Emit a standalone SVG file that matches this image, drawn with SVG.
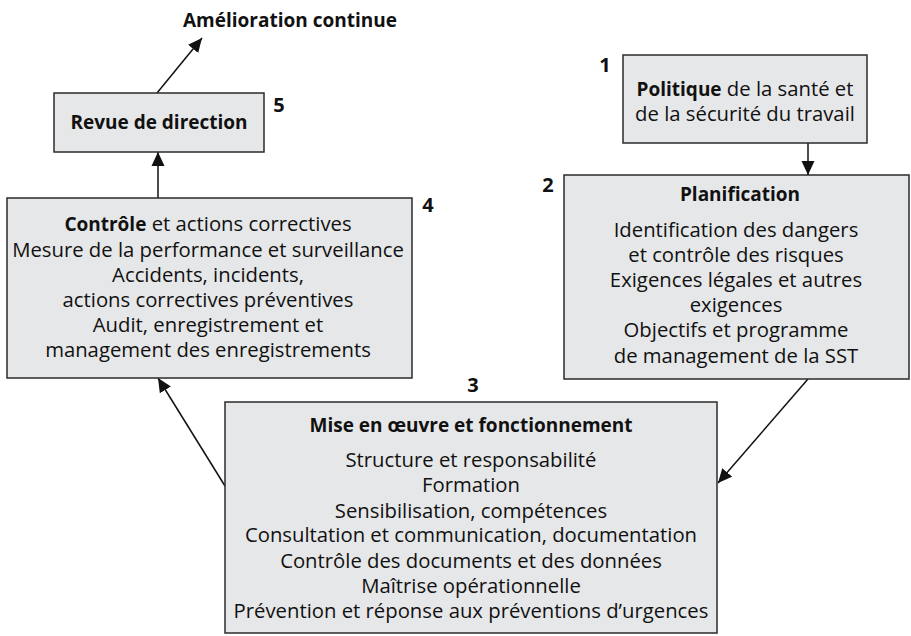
<svg xmlns="http://www.w3.org/2000/svg" width="911" height="636" viewBox="0 0 911 636">
  <style>
    .box { fill: #e6e7e8; stroke: #2b2b2b; stroke-width: 1.5; }
    .t { font-family: "Open Sans", "Liberation Sans", Arial, sans-serif; font-size: 20.3px; fill: #111; text-anchor: middle; }
    .b { font-weight: bold; font-size: 19px; }
    .num { font-family: "Open Sans", "Liberation Sans", Arial, sans-serif; font-size: 20px; font-weight: bold; fill: #111; text-anchor: middle; }
    .edge { stroke: #111; stroke-width: 1.5; fill: none; marker-end: url(#arrow); }
  </style>
  <defs>
    <marker id="arrow" markerWidth="14" markerHeight="14" viewBox="0 0 14 14" refX="14" refY="7" orient="auto" markerUnits="userSpaceOnUse">
      <path d="M0,0.5 L14,7 L0,13.5 Z" fill="#111"/>
    </marker>
  </defs>

  <rect width="911" height="636" fill="#ffffff"/>

  <g id="connectors">
    <line class="edge" x1="808" y1="143" x2="808" y2="175"/>
    <line class="edge" x1="808" y1="379" x2="718" y2="483"/>
    <line class="edge" x1="225" y1="486" x2="158" y2="378"/>
    <line class="edge" x1="158" y1="198" x2="158" y2="152"/>
    <line class="edge" x1="157" y1="93" x2="202" y2="38"/>
  </g>

  <g id="amelioration">
    <text class="t b" x="290" y="27">Amélioration continue</text>
  </g>

  <g id="node-5">
    <rect class="box" x="54" y="93" width="210" height="59"/>
    <text class="t b" x="159" y="129">Revue de direction</text>
    <text class="num" x="279" y="112">5</text>
  </g>

  <g id="node-1">
    <rect class="box" x="623" y="55" width="244" height="88"/>
    <text class="t" x="745" y="96"><tspan class="b">Politique</tspan> de la santé et</text>
    <text class="t" x="745" y="121">de la sécurité du travail</text>
    <text class="num" x="605" y="72">1</text>
  </g>

  <g id="node-2">
    <rect class="box" x="564" y="175" width="345" height="204"/>
    <text class="t b" x="740" y="201">Planification</text>
    <text class="t" x="736" y="237">Identification des dangers</text>
    <text class="t" x="736" y="262">et contrôle des risques</text>
    <text class="t" x="736" y="287">Exigences légales et autres</text>
    <text class="t" x="736" y="312">exigences</text>
    <text class="t" x="736" y="337">Objectifs et programme</text>
    <text class="t" x="736" y="363">de management de la SST</text>
    <text class="num" x="548" y="192">2</text>
  </g>

  <g id="node-4">
    <rect class="box" x="7" y="198" width="405" height="180"/>
    <text class="t" x="208" y="231"><tspan class="b">Contrôle</tspan> et actions correctives</text>
    <text class="t" x="208" y="257">Mesure de la performance et surveillance</text>
    <text class="t" x="208" y="282">Accidents, incidents,</text>
    <text class="t" x="208" y="307">actions correctives préventives</text>
    <text class="t" x="208" y="332">Audit, enregistrement et</text>
    <text class="t" x="208" y="357">management des enregistrements</text>
    <text class="num" x="428" y="212">4</text>
  </g>

  <g id="node-3">
    <rect class="box" x="225" y="402" width="492" height="231"/>
    <text class="t b" x="471" y="432">Mise en œuvre et fonctionnement</text>
    <text class="t" x="471" y="467">Structure et responsabilité</text>
    <text class="t" x="471" y="492">Formation</text>
    <text class="t" x="471" y="518">Sensibilisation, compétences</text>
    <text class="t" x="471" y="542">Consultation et communication, documentation</text>
    <text class="t" x="471" y="568">Contrôle des documents et des données</text>
    <text class="t" x="471" y="593">Maîtrise opérationnelle</text>
    <text class="t" x="471" y="618">Prévention et réponse aux préventions d’urgences</text>
    <text class="num" x="473" y="392">3</text>
  </g>
</svg>
